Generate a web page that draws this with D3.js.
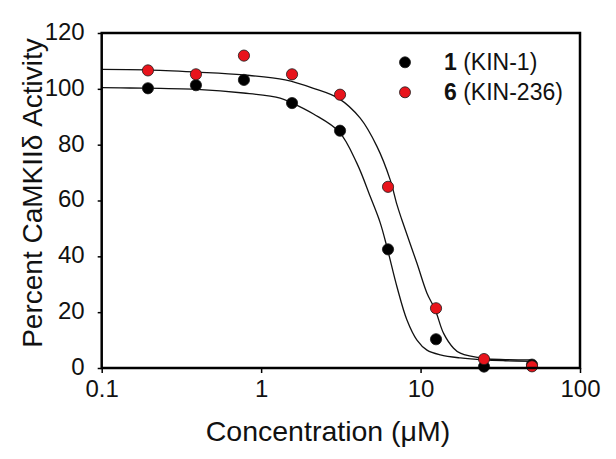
<!DOCTYPE html>
<html>
<head>
<meta charset="utf-8">
<script src="https://cdn.jsdelivr.net/npm/d3@7"></script>
<style>
  html, body { margin: 0; padding: 0; background: #fff; }
  svg { display: block; }
  text { font-family: "Liberation Sans", Arial, sans-serif; fill: #111; }
</style>
</head>
<body>
<svg id="chart" width="616" height="459"></svg>
<script>
// ---- data ----
const concentrations = [0.195, 0.39, 0.78, 1.5625, 3.125, 6.25, 12.5, 25, 50];
const kin1Values   = [100.2, 101.3, 103.2, 94.9, 85.0, 42.5, 10.3, 0.5, 1.2];
const kin236Values = [106.6, 105.2, 111.9, 105.2, 97.9, 64.9, 21.4, 3.2, 0.6];

// fitted curves: [concentration, percent]
const kin1Curve = [
  [0.1, 100.4], [0.15, 100.3], [0.395, 99.8], [0.774, 98.5], [1.316, 96.7],
  [1.558, 95.0], [2.13, 91.0], [3.087, 84.6], [3.99, 73.3], [4.834, 61.4],
  [5.585, 52.0], [6.205, 42.5], [7.11, 29.1], [8.215, 17.2], [9.493, 10.0],
  [10.97, 6.4], [13.3, 4.7], [17.75, 3.6], [25, 2.9], [34, 2.6], [50, 2.4]
];
const kin236Curve = [
  [0.1, 107.0], [0.19, 106.8], [0.391, 106.0], [0.774, 105.0], [1.415, 103.2],
  [2.13, 100.2], [3.057, 96.6], [4.183, 89.5], [5.324, 79.4], [6.452, 67.4],
  [7.11, 58.5], [7.64, 53.0], [9.493, 37.5], [10.97, 26.8], [12.37, 20.8],
  [13.95, 12.4], [16.11, 7.1], [17.75, 5.3], [25, 3.4], [34, 3.0], [50, 2.9]
];

const xTicks = [0.1, 1, 10, 100];
const xTickLabels = ["0.1", "1", "10", "100"];
const yTicks = [0, 20, 40, 60, 80, 100, 120];

const seriesNames = ["1", "6"];
const seriesCodes = ["(KIN-1)", "(KIN-236)"];
const seriesColors = ["#000000", "#e8141c"];

const xTitle = "Concentration (\u03BCM)";
const yTitle = "Percent CaMKII\u03B4 Activity";

// ---- layout ----
const svg = d3.select("#chart");
const mLeft = 101.7, mRight = 580, mTop = 33, mBottom = 368;

const x = d3.scaleLog().domain([0.1, 100]).range([mLeft, mRight]);
const y = d3.scaleLinear().domain([0, 120]).range([mBottom, mTop]);

// curves
const line = d3.line()
  .x(d => x(d[0]))
  .y(d => y(d[1]))
  .curve(d3.curveCatmullRom.alpha(0.5));

const curves = [kin1Curve, kin236Curve];
svg.append("g").selectAll("path")
  .data(curves)
  .enter().append("path")
  .attr("d", line)
  .attr("fill", "none")
  .attr("stroke", "#111")
  .attr("stroke-width", 1.3);

// points
const seriesValues = [kin1Values, kin236Values];
seriesValues.forEach((vals, i) => {
  svg.append("g").selectAll("circle")
    .data(concentrations.map((c, j) => [c, vals[j]]))
    .enter().append("circle")
    .attr("cx", d => x(d[0]))
    .attr("cy", d => y(d[1]))
    .attr("r", 5.6)
    .attr("fill", seriesColors[i])
    .attr("stroke", "#1a1a1a")
    .attr("stroke-width", 0.8);
});

// axes
const xAxis = d3.axisBottom(x)
  .tickValues(xTicks)
  .tickFormat((d, i) => xTickLabels[i])
  .tickSize(5)
  .tickPadding(22);
const gx = svg.append("g").attr("transform", `translate(0,${mBottom})`).call(xAxis);
gx.select(".domain").remove();
gx.selectAll("line").attr("stroke", "#000").attr("stroke-width", 1.5);
gx.selectAll("text").attr("font-size", 24).attr("dy", "0.1em");

const yAxis = d3.axisLeft(y)
  .tickValues(yTicks)
  .tickSize(4)
  .tickPadding(13);
const gy = svg.append("g").attr("transform", `translate(${mLeft},0)`).call(yAxis);
gy.select(".domain").remove();
gy.selectAll("line").attr("stroke", "#000").attr("stroke-width", 1.5);
gy.selectAll("text").attr("font-size", 24).attr("dy", "0.27em");

// frame
svg.append("rect")
  .attr("x", mLeft).attr("y", mTop)
  .attr("width", mRight - mLeft).attr("height", mBottom - mTop)
  .attr("fill", "none")
  .attr("stroke", "#000")
  .attr("stroke-width", 2.5);

// axis titles
svg.append("text")
  .attr("x", 328).attr("y", 441)
  .attr("text-anchor", "middle")
  .attr("font-size", 28.5)
  .text(xTitle);

svg.append("text")
  .attr("transform", "translate(42,193) rotate(-90)")
  .attr("text-anchor", "middle")
  .attr("font-size", 28)
  .text(yTitle);

// legend
const legend = svg.append("g");
seriesNames.forEach((name, i) => {
  const cy = 62.3 + i * 30;
  legend.append("circle")
    .attr("cx", 405).attr("cy", cy).attr("r", 5.5)
    .attr("fill", seriesColors[i])
    .attr("stroke", "#1a1a1a").attr("stroke-width", 0.8);
  const t = legend.append("text")
    .attr("x", 444).attr("y", cy + 8)
    .attr("font-size", 23);
  t.append("tspan").attr("font-weight", "bold").text(name);
  t.append("tspan").text(" " + seriesCodes[i]);
});
</script>
</body>
</html>
